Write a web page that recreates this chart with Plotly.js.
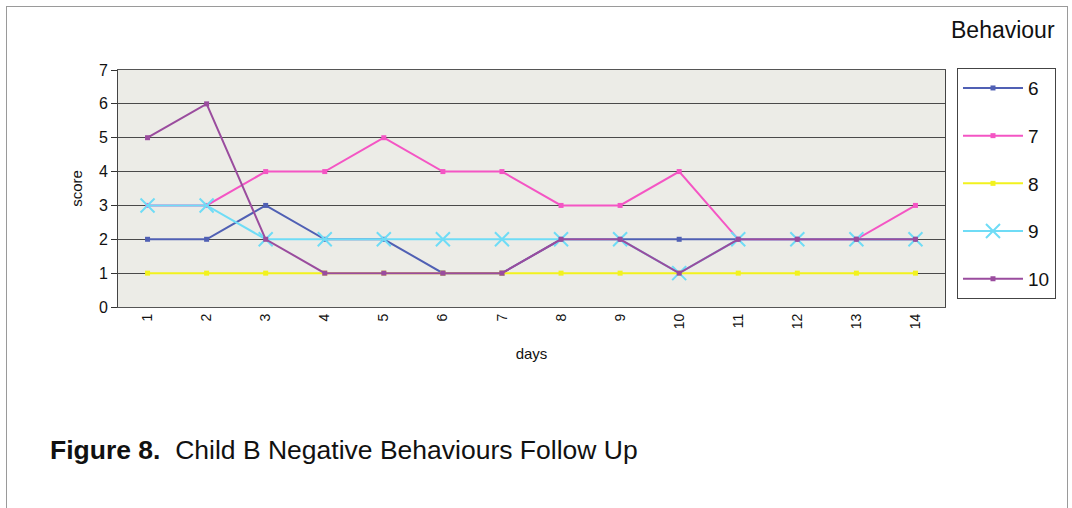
<!DOCTYPE html>
<html>
<head>
<meta charset="utf-8">
<script src="https://cdn.plot.ly/plotly-3.0.1.min.js"></script>
<style>
html,body{margin:0;padding:0;background:#fff;}
#frame{position:absolute;left:6px;top:6px;width:1062px;height:520px;border:1px solid #9a9a9a;box-sizing:border-box;}
#chart{position:absolute;left:0;top:0;width:1072px;height:508px;}
</style>
</head>
<body>
<div id="frame"></div>
<div id="chart"></div>
<script>
const days = [1,2,3,4,5,6,7,8,9,10,11,12,13,14];
const seriesNames = ['6','7','8','9','10'];
const s6  = [2,2,3,2,2,1,1,2,2,2,2,2,2,2];
const s7  = [3,3,4,4,5,4,4,3,3,4,2,2,2,3];
const s8  = [1,1,1,1,1,1,1,1,1,1,1,1,1,1];
const s9  = [3,3,2,2,2,2,2,2,2,1,2,2,2,2];
const s10 = [5,6,2,1,1,1,1,2,2,1,2,2,2,2];
const seriesValues = [s6,s7,s8,s9,s10];
const colors = ['#5060b4','#f455c4','#f2f21e','#6fdcf6','#9a4c9e'];

const traces = seriesValues.map((vals,i)=>{
  const isX = seriesNames[i]==='9';
  return {
    x: days, y: vals, name: seriesNames[i], type:'scatter', mode:'lines+markers',
    legendgroup: 'g'+i,
    line:{color:colors[i], width:2},
    marker: isX ? {symbol:'x-thin-open', size:14, line:{color:colors[i], width:2}, color:colors[i]}
                : {symbol:'square', size:5, color:colors[i]}
  };
});

const layout = {
  width:1072, height:508,
  margin:{l:118, r:127, t:70, b:201},
  paper_bgcolor:'rgba(0,0,0,0)',
  plot_bgcolor:'#ecece7',
  font:{family:'Liberation Sans, Arial, sans-serif', color:'#111'},
  showlegend:true,
  legend:{
    x:1.0145, y:1.008, xanchor:'left', yanchor:'top',
    bordercolor:'#444', borderwidth:1, bgcolor:'#fff',
    font:{size:19, color:'#111'},
    itemwidth:60,
    traceorder:'grouped', tracegroupgap:20
  },
  xaxis:{
    range:[0.5,14.5], tickmode:'array', tickvals:days, ticktext:days.map(String),
    tickangle:-90, tickfont:{size:14}, showgrid:false, zeroline:false,
    showline:true, linecolor:'#555', linewidth:1, mirror:true, ticks:'',
    title:{text:'days', font:{size:15}, standoff:20}
  },
  yaxis:{
    range:[0,7], dtick:1, tickfont:{size:16}, ticks:'outside', ticklen:6, tickcolor:'#333',
    showgrid:true, gridcolor:'#4a4a4a', gridwidth:1, zeroline:false,
    showline:true, linecolor:'#444', linewidth:1, mirror:true,
    title:{text:'score', font:{size:15}, standoff:12}
  },
  annotations:[
    {xref:'paper', yref:'paper', x:1.1355, y:1.169, xanchor:'right', yanchor:'middle',
     text:'Behaviour', showarrow:false, font:{size:23, color:'#111'}},
    {xref:'paper', yref:'paper', x:-0.085, y:-0.605, xanchor:'left', yanchor:'middle',
     text:'<b>Figure 8.</b>  Child B Negative Behaviours Follow Up', showarrow:false,
     font:{size:26.5, color:'#111'}}
  ]
};
Plotly.newPlot('chart', traces, layout, {displayModeBar:false, staticPlot:true});
</script>
</body>
</html>
